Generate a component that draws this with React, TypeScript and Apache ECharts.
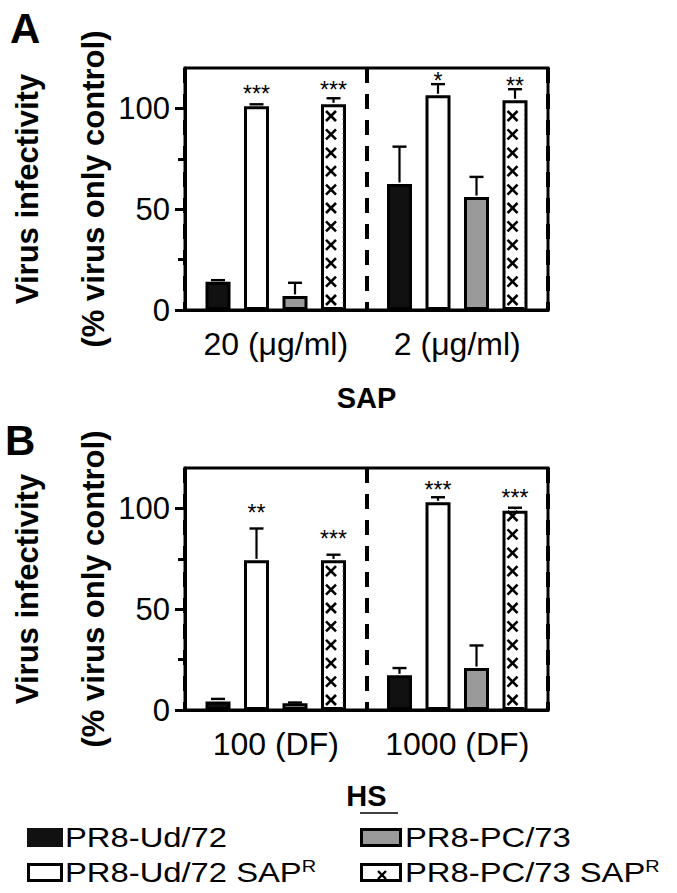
import React, { useEffect, useRef } from 'react';
import * as echarts from 'echarts';

const FONT = '"Liberation Sans", Arial, Helvetica, sans-serif';

const seriesNames = ['PR8-Ud/72', 'PR8-Ud/72 SAPR', 'PR8-PC/73', 'PR8-PC/73 SAPR'];
const seriesColors = ['#111111', '#ffffff', '#9a9a9a', '#ffffff'];

// Panel A – SAP
const categoriesA = ['20 (μg/ml)', '2 (μg/ml)'];
const udA = [14, 62.5];
const udSapA = [101, 106.5];
const pcA = [7, 56];
const pcSapA = [102, 104];
const udErrA = [0.8, 18.5];
const udSapErrA = [1, 5.5];
const pcErrA = [6.5, 10];
const pcSapErrA = [3, 5.5];
const sigA = [['', ''], ['***', '*'], ['', ''], ['***', '**']];
const sigPosA = [[0, 0], [109.7, 115.8], [0, 0], [111.7, 113.7]];

// Panel B – HS
const categoriesB = ['100 (DF)', '1000 (DF)'];
const udB = [4.2, 17.2];
const udSapB = [74.2, 103];
const pcB = [3.3, 20.8];
const pcSapB = [74.2, 98.8];
const udErrB = [1.3, 3.6];
const udSapErrB = [15.8, 2.5];
const pcErrB = [0.4, 11.2];
const pcSapErrB = [2.8, 1.5];
const sigB = [['', ''], ['**', '***'], ['', ''], ['***', '***']];
const sigPosB = [[0, 0], [100, 111.5], [0, 0], [87.5, 107.5]];

const yTicks = [0, 50, 100];
const yMinorTicks = [25, 75];
const yAxisTitle = 'Virus infectivity\n(% virus only control)';

const BAR_W = 25;
const BAR_STEP = 38.5;
const CROSS_STEP = 18.4;
const CROSS_START = 10;

function makeRender(sig: string[][]) {
  return (params: any, api: any) => {
    const c = api.value(0);
    const v = api.value(1);
    const s = api.value(2);
    const e = api.value(3);
    const sp = api.value(4);
    const base = api.coord([c, 0]);
    const x = base[0] + (s - 1.5) * BAR_STEP;
    const yBase = base[1];
    const yTop = api.coord([c, v])[1];
    const yErr = api.coord([c, v + e])[1];
    const children: any[] = [];
    if (s === 3) {
      children.push({
        type: 'line',
        shape: { x1: x + 9.5, y1: yBase - 2, x2: x + 9.5, y2: yTop + 2 },
        style: { stroke: '#666', lineWidth: 1.2, lineDash: [1.2, 3.5] },
      });
      for (let k = 0; k < 40; k++) {
        const cy = yBase - CROSS_START - k * CROSS_STEP;
        if (cy < yTop + 4) break;
        const cx = x - 2.5;
        children.push({
          type: 'line',
          shape: { x1: cx - 5, y1: cy - 5, x2: cx + 5, y2: cy + 5 },
          style: { stroke: '#000', lineWidth: 2.6 },
        });
        children.push({
          type: 'line',
          shape: { x1: cx - 5, y1: cy + 5, x2: cx + 5, y2: cy - 5 },
          style: { stroke: '#000', lineWidth: 2.6 },
        });
      }
    }
    children.push({
      type: 'line',
      shape: { x1: x, y1: yTop - 1.5, x2: x, y2: yErr },
      style: { stroke: '#000', lineWidth: 2.2 },
    });
    children.push({
      type: 'line',
      shape: { x1: x - 7, y1: yErr, x2: x + 7, y2: yErr },
      style: { stroke: '#000', lineWidth: 2.4 },
    });
    const txt = sig[s][c];
    if (txt) {
      children.push({
        type: 'text',
        style: {
          text: txt,
          x,
          y: api.coord([c, sp])[1] + 5,
          textAlign: 'center',
          textVerticalAlign: 'middle',
          fontSize: 23,
          fontFamily: FONT,
          fill: '#000',
        },
      });
    }
    return { type: 'group', children };
  };
}

function panel(
  g: number,
  cats: string[],
  vals: number[][],
  errs: number[][],
  sig: string[][],
  sigPos: number[][],
  xName: string,
  nameGap: number,
  top: number
) {
  const grid = {
    left: 185,
    top,
    width: 363,
    height: 242,
    show: true,
    borderColor: '#000',
    borderWidth: 3,
    backgroundColor: 'transparent',
    containLabel: false,
    outerBoundsMode: 'none',
  };
  const xAxis = {
    type: 'category',
    gridIndex: g,
    data: cats,
    name: xName,
    nameLocation: 'middle',
    nameGap,
    nameMoveOverlap: false,
    nameTextStyle: { fontSize: 29, fontWeight: 'bold', color: '#000', fontFamily: FONT },
    axisLine: { show: true, lineStyle: { color: '#000', width: 3 } },
    axisTick: { show: false },
    axisLabel: { interval: 0, fontSize: 32, color: '#000', margin: 18, fontFamily: FONT },
    splitLine: { show: true, lineStyle: { color: '#000', width: 4, type: [15, 11] } },
  };
  const yMain = {
    type: 'value',
    gridIndex: g,
    min: 0,
    max: 120,
    name: yAxisTitle,
    nameLocation: 'middle',
    nameGap: 59,
    nameMoveOverlap: false,
    nameTextStyle: { fontSize: 31, fontWeight: 'bold', color: '#000', fontFamily: FONT, lineHeight: 66 },
    axisLine: { show: true, lineStyle: { color: '#000', width: 3 } },
    axisTick: { show: true, length: 10, customValues: yTicks, lineStyle: { color: '#000', width: 3 } },
    axisLabel: { customValues: yTicks, fontSize: 31, margin: 15, color: '#000', fontFamily: FONT },
    splitLine: { show: false },
  };
  const yMinor = {
    type: 'value',
    gridIndex: g,
    min: 0,
    max: 120,
    position: 'left',
    axisLine: { show: false },
    axisTick: { show: true, length: 7, customValues: yMinorTicks, lineStyle: { color: '#000', width: 3 } },
    axisLabel: { show: false },
    splitLine: { show: false },
  };
  const bars = vals.map((d, s) => ({
    type: 'bar',
    name: seriesNames[s],
    xAxisIndex: g,
    yAxisIndex: g * 2,
    data: d,
    barWidth: BAR_W,
    barGap: '54%',
    itemStyle: { color: seriesColors[s], borderColor: '#000', borderWidth: 3 },
    z: 2,
  }));
  const customData: number[][] = [];
  vals.forEach((d, s) => d.forEach((v, c) => customData.push([c, v, s, errs[s][c], sigPos[s][c]])));
  const custom = {
    type: 'custom',
    xAxisIndex: g,
    yAxisIndex: g * 2,
    data: customData,
    encode: { x: 0, y: 1 },
    renderItem: makeRender(sig),
    z: 5,
    silent: true,
  };
  return { grid, xAxis, yAxes: [yMain, yMinor], series: [...bars, custom] };
}

export default function App() {
  const ref = useRef<HTMLDivElement>(null);
  useEffect(() => {
    if (!ref.current) return;
    const chart = echarts.init(ref.current, undefined, { renderer: 'svg' });
    const pA = panel(
      0,
      categoriesA,
      [udA, udSapA, pcA, pcSapA],
      [udErrA, udSapErrA, pcErrA, pcSapErrA],
      sigA,
      sigPosA,
      'SAP',
      73,
      68
    );
    const pB = panel(
      1,
      categoriesB,
      [udB, udSapB, pcB, pcSapB],
      [udErrB, udSapErrB, pcErrB, pcSapErrB],
      sigB,
      sigPosB,
      'HS',
      71,
      468
    );
    const legendText = (x: number, y: number, text: string) => ({
      type: 'text',
      x,
      y,
      scaleX: 1.17,
      style: {
        text,
        fontSize: 28,
        fontFamily: FONT,
        fill: '#000',
        textAlign: 'left',
        textVerticalAlign: 'middle',
        rich: { sup: { fontSize: 17, verticalAlign: 'top', lineHeight: 17, fontFamily: FONT, fill: '#000' } },
      },
    });
    const toLegendLabel = (n: string) => (n.endsWith('SAPR') ? n.slice(0, -1) + '{sup|R}' : n);
    const option: any = {
      animation: false,
      backgroundColor: '#fff',
      textStyle: { fontFamily: FONT },
      grid: [pA.grid, pB.grid],
      xAxis: [pA.xAxis, pB.xAxis],
      yAxis: [...pA.yAxes, ...pB.yAxes],
      series: [...pA.series, ...pB.series],
      graphic: [
        { type: 'text', x: 10, y: 28, style: { text: 'A', fontSize: 42, fontWeight: 'bold', fontFamily: FONT, fill: '#000', textVerticalAlign: 'middle' } },
        { type: 'text', x: 5, y: 440, style: { text: 'B', fontSize: 42, fontWeight: 'bold', fontFamily: FONT, fill: '#000', textVerticalAlign: 'middle' } },
        { type: 'line', shape: { x1: 360, y1: 813, x2: 398, y2: 813 }, style: { stroke: '#000', lineWidth: 1.5 } },
        { type: 'rect', shape: { x: 27, y: 828, width: 36, height: 19 }, style: { fill: '#111' } },
        { type: 'rect', shape: { x: 28.5, y: 864.5, width: 33, height: 16 }, style: { fill: '#fff', stroke: '#000', lineWidth: 3 } },
        { type: 'rect', shape: { x: 361.5, y: 829.5, width: 39, height: 16 }, style: { fill: '#9a9a9a', stroke: '#000', lineWidth: 3 } },
        { type: 'rect', shape: { x: 361.5, y: 864.5, width: 39, height: 16 }, style: { fill: '#fff', stroke: '#000', lineWidth: 3 } },
        { type: 'line', shape: { x1: 378, y1: 871, x2: 386, y2: 879 }, style: { stroke: '#000', lineWidth: 2.4 } },
        { type: 'line', shape: { x1: 378, y1: 879, x2: 386, y2: 871 }, style: { stroke: '#000', lineWidth: 2.4 } },
        legendText(65, 837, toLegendLabel(seriesNames[0])),
        legendText(65, 872, toLegendLabel(seriesNames[1])),
        legendText(405, 837, toLegendLabel(seriesNames[2])),
        legendText(405, 872, toLegendLabel(seriesNames[3])),
      ],
    };
    chart.setOption(option);
    return () => chart.dispose();
  }, []);
  return <div ref={ref} style={{ position: 'absolute', left: 0, top: 0, width: 677, height: 893 }} />;
}
